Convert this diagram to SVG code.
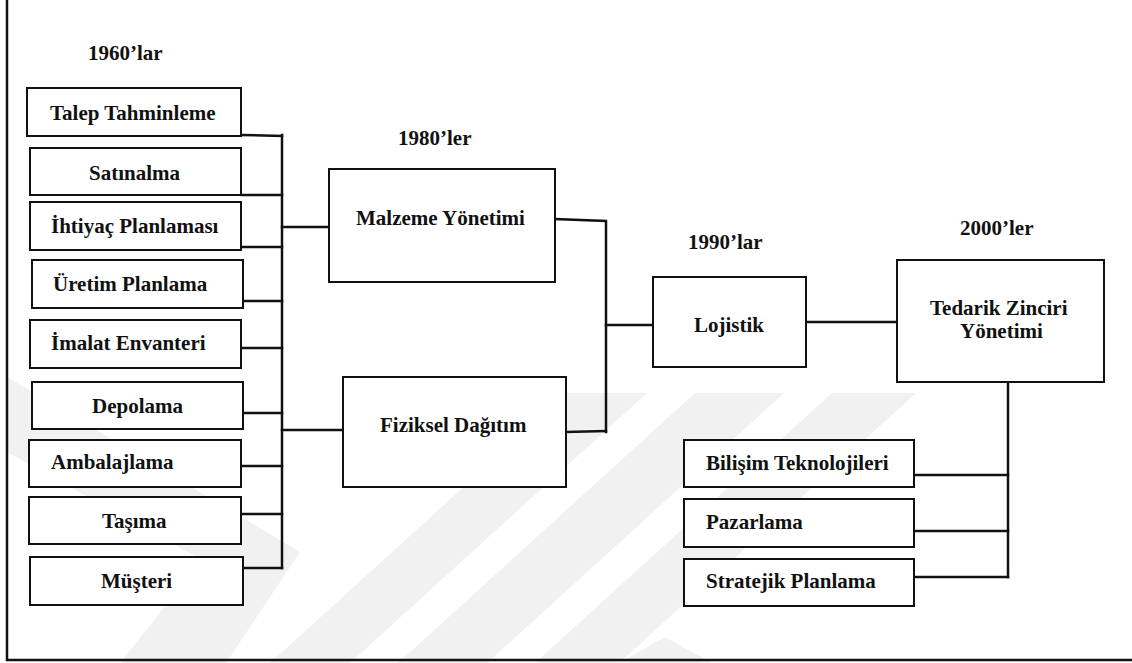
<svg xmlns="http://www.w3.org/2000/svg" width="1132" height="663" viewBox="0 0 1132 663">
  <style>
    .box { fill: #ffffff; stroke: #111111; stroke-width: 2; }
    .wire { fill: none; stroke: #111111; stroke-width: 2.5; stroke-linecap: square; }
    .frame { fill: none; stroke: #111111; stroke-width: 2.5; }
    .mark { fill: #f1f1f1; }
    text { font-family: "Liberation Serif", "Times New Roman", serif; font-weight: bold; font-size: 21px; fill: #111111; }
  </style>

  <rect x="0" y="0" width="1132" height="663" fill="#ffffff"/>

  <!-- faint background emblem -->
  <g id="emblem">
    <polygon class="mark" points="7,377 300,552 226,663 120,663 202,560 7,452"/>
    <polygon class="mark" points="567,393 647,393 350,663 270,663"/>
    <polygon class="mark" points="695,393 784,393 487,663 398,663"/>
    <polygon class="mark" points="832,393 916,393 619,663 535,663"/>
    <polygon class="mark" points="619,663 665,637 712,663"/>
  </g>

  <!-- page frame -->
  <g id="frame">
    <path class="frame" d="M7,0 V660 H1132"/>
  </g>

  <!-- period headings -->
  <g id="periods">
    <text x="88" y="60">1960’lar</text>
    <text x="398" y="145">1980’ler</text>
    <text x="688" y="249">1990’lar</text>
    <text x="960" y="235">2000’ler</text>
  </g>

  <!-- connectors -->
  <g id="connectors">
    <path class="wire" d="M282,135 V568"/>
    <path class="wire" d="M242,135 L282,136"/>
    <path class="wire" d="M242,195 H282"/>
    <path class="wire" d="M242,247 H282"/>
    <path class="wire" d="M244,301 H282"/>
    <path class="wire" d="M242,348 H282"/>
    <path class="wire" d="M244,413 H282"/>
    <path class="wire" d="M242,466 H282"/>
    <path class="wire" d="M242,514 H282"/>
    <path class="wire" d="M244,568 H282"/>
    <path class="wire" d="M282,227 H329"/>
    <path class="wire" d="M282,430 H343"/>
    <path class="wire" d="M555,219 L606,221 V432"/>
    <path class="wire" d="M566,432 L606,431"/>
    <path class="wire" d="M606,325 H653"/>
    <path class="wire" d="M806,322 H897"/>
    <path class="wire" d="M1008,382 V577"/>
    <path class="wire" d="M914,475 H1008"/>
    <path class="wire" d="M914,531 H1008"/>
    <path class="wire" d="M914,577 H1008"/>
  </g>

  <!-- 1960s activities -->
  <g id="talep-tahminleme">
    <rect class="box" x="27" y="88" width="214" height="48"/>
    <text x="50" y="120">Talep Tahminleme</text>
  </g>
  <g id="satinalma">
    <rect class="box" x="30" y="148" width="211" height="47"/>
    <text x="89" y="180">Satınalma</text>
  </g>
  <g id="ihtiyac-planlamasi">
    <rect class="box" x="30" y="202" width="211" height="48"/>
    <text x="51" y="233">İhtiyaç Planlaması</text>
  </g>
  <g id="uretim-planlama">
    <rect class="box" x="32" y="260" width="211" height="48"/>
    <text x="53" y="291">Üretim Planlama</text>
  </g>
  <g id="imalat-envanteri">
    <rect class="box" x="30" y="320" width="211" height="48"/>
    <text x="51" y="350">İmalat Envanteri</text>
  </g>
  <g id="depolama">
    <rect class="box" x="32" y="382" width="211" height="47"/>
    <text x="92" y="413">Depolama</text>
  </g>
  <g id="ambalajlama">
    <rect class="box" x="29" y="440" width="212" height="47"/>
    <text x="51" y="469">Ambalajlama</text>
  </g>
  <g id="tasima">
    <rect class="box" x="29" y="497" width="212" height="47"/>
    <text x="102" y="528">Taşıma</text>
  </g>
  <g id="musteri">
    <rect class="box" x="30" y="557" width="213" height="48"/>
    <text x="101" y="588">Müşteri</text>
  </g>

  <!-- 1980s -->
  <g id="malzeme-yonetimi">
    <rect class="box" x="329" y="169" width="226" height="113"/>
    <text x="356" y="225">Malzeme Yönetimi</text>
  </g>
  <g id="fiziksel-dagitim">
    <rect class="box" x="343" y="377" width="223" height="110"/>
    <text x="380" y="432">Fiziksel Dağıtım</text>
  </g>

  <!-- 1990s -->
  <g id="lojistik">
    <rect class="box" x="653" y="277" width="153" height="90"/>
    <text x="694" y="332">Lojistik</text>
  </g>

  <!-- 2000s -->
  <g id="tedarik-zinciri-yonetimi">
    <rect class="box" x="897" y="260" width="207" height="122"/>
    <text x="930" y="315">Tedarik Zinciri</text>
    <text x="960" y="338">Yönetimi</text>
  </g>
  <g id="bilisim-teknolojileri">
    <rect class="box" x="684" y="440" width="230" height="47"/>
    <text x="706" y="470">Bilişim Teknolojileri</text>
  </g>
  <g id="pazarlama">
    <rect class="box" x="684" y="499" width="230" height="48"/>
    <text x="706" y="529">Pazarlama</text>
  </g>
  <g id="stratejik-planlama">
    <rect class="box" x="684" y="559" width="230" height="47"/>
    <text x="706" y="588">Stratejik Planlama</text>
  </g>
</svg>
